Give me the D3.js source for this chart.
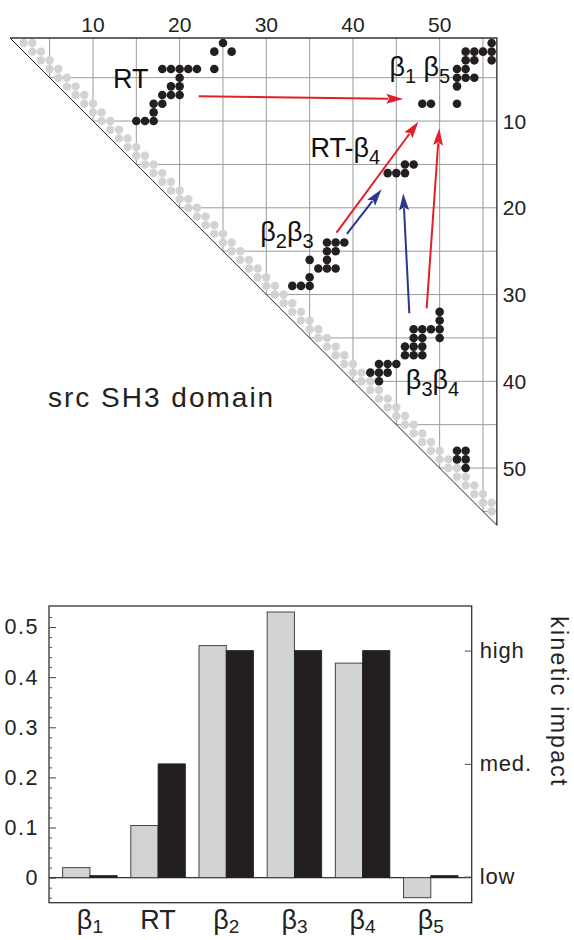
<!DOCTYPE html>
<html><head><meta charset="utf-8">
<script src="https://cdn.jsdelivr.net/npm/d3@7/dist/d3.min.js"></script>
<style>
body{margin:0;background:#fff;}
svg{display:block;font-family:"Liberation Sans",Arial,Helvetica,sans-serif;}
</style></head><body>
<svg id="c" width="574" height="940"></svg>
<script>
// ---------- contact map data ----------
const nResidues = 56;
const mapTickValues = [10, 20, 30, 40, 50];
const mapGridValues = [5, 10, 15, 20, 25, 30, 35, 40, 45, 50, 55];
const backboneOffsets = [1, 2];   // sequence neighbours (grey dots)
// native contacts [row residue, column residue]
const contacts = [
  [1,25],[1,56],
  [2,24],[2,26],[2,53],[2,54],[2,55],[2,56],
  [3,53],[3,54],[3,56],
  [4,18],[4,19],[4,20],[4,21],[4,22],[4,24],[4,52],[4,53],
  [5,20],[5,52],[5,53],[5,54],
  [6,19],[6,20],[6,52],
  [7,18],[7,19],[7,20],
  [8,17],[8,18],[8,48],[8,49],[8,52],
  [9,17],
  [10,15],[10,16],[10,17],
  [15,46],[15,47],
  [16,44],[16,45],[16,46],
  [24,37],[24,38],[24,39],
  [25,37],[25,38],
  [26,35],[26,37],
  [27,36],[27,37],[27,38],
  [28,35],
  [29,33],[29,34],[29,35],
  [32,50],[33,50],
  [34,47],[34,48],[34,49],[34,50],
  [35,47],[35,48],[35,50],
  [36,46],[36,47],[36,48],
  [37,46],[37,47],[37,48],
  [38,43],[38,44],[38,45],
  [39,42],[39,43],[39,44],
  [40,43],
  [48,52],[48,53],
  [49,52],[49,53],
  [50,53]
];
// arrows: [fromCol, fromRow, toCol, toRow, colour]
const arrows = [
  [22.2, 7.15, 45.8, 7.46, "red"],
  [38.1, 22.87, 47.55, 10.07, "red"],
  [48.5, 31.6, 49.95, 10.84, "red"],
  [39.3, 23.0, 43.3, 17.87, "blue"],
  [46.5, 32.15, 45.8, 18.33, "blue"]
];
// labels: [col, row(baseline), base text, subscript, base2, subscript2]
const mapLabels = [
  [12.3, 6.2, "RT", "", "", ""],
  [44.2, 4.75, "β", "1", " β", "5"],
  [35.1, 14.15, "RT-β", "4", "", ""],
  [29.3, 23.8, "β", "2", "β", "3"],
  [46.1, 40.85, "β", "3", "β", "4"]
];

// ---------- bar chart data ----------
const elements = ["β1", "RT", "β2", "β3", "β4", "β5"];
const elementBase = ["β", "RT", "β", "β", "β", "β"];
const elementSub = ["1", "", "2", "3", "4", "5"];
const greyValues = [0.020, 0.104, 0.463, 0.530, 0.428, -0.040];
const blackValues = [0.004, 0.227, 0.453, 0.453, 0.453, 0.004];
const yTickValues = [0, 0.1, 0.2, 0.3, 0.4, 0.5];
const yMinorValues = [-0.04, -0.02, 0.02, 0.04, 0.06, 0.08, 0.12, 0.14, 0.16, 0.18, 0.22, 0.24, 0.26, 0.28, 0.32, 0.34, 0.36, 0.38, 0.42, 0.44, 0.46, 0.48, 0.52];
const impactLabels = ["low", "med.", "high"];
const impactValues = [0.002, 0.227, 0.453];

const svg = d3.select("#c");
const RED = "#e3202a", BLUE = "#2c3590", BLACK = "#231f20", GREY = "#d1d3d5";

// ================= CONTACT MAP =================
const lo = 0.43, hi = 56.6;
const mx = d3.scaleLinear().domain([0, 57]).range([6.3, 6.3 + 8.667 * 57]);
const my = d3.scaleLinear().domain([0, 57]).range([34.3, 34.3 + 8.675 * 57]);
const map = svg.append("g");

// grid
map.selectAll("line.vg").data(mapGridValues).join("line")
  .attr("x1", d => mx(d)).attr("x2", d => mx(d))
  .attr("y1", my(lo)).attr("y2", d => my(d))
  .attr("stroke", "#9a9a9a").attr("stroke-width", 1);
map.selectAll("line.hg").data(mapGridValues).join("line")
  .attr("x1", d => mx(d)).attr("x2", mx(hi))
  .attr("y1", d => my(d)).attr("y2", d => my(d))
  .attr("stroke", "#9a9a9a").attr("stroke-width", 1);

// grey backbone dots
const backbone = [];
for (let i = 1; i <= nResidues; i++) backboneOffsets.forEach(o => { if (i + o <= nResidues) backbone.push([i, i + o]); });
map.selectAll("circle.bb").data(backbone).join("circle")
  .attr("cx", d => mx(d[1])).attr("cy", d => my(d[0])).attr("r", 4.2).attr("fill", GREY);

// triangle frame
map.append("path")
  .attr("d", `M${mx(lo)},${my(lo)}L${mx(hi)},${my(lo)}L${mx(hi)},${my(hi)}`)
  .attr("fill", "none").attr("stroke", "#333").attr("stroke-width", 1.4);
map.append("line")
  .attr("x1", mx(lo)).attr("y1", my(lo)).attr("x2", mx(hi)).attr("y2", my(hi))
  .attr("stroke", "#222").attr("stroke-width", 1);

// contacts
map.selectAll("circle.ct").data(contacts).join("circle")
  .attr("cx", d => mx(d[1])).attr("cy", d => my(d[0])).attr("r", 4.3).attr("fill", BLACK);

// tick labels
map.selectAll("text.tx").data(mapTickValues).join("text")
  .attr("x", d => mx(d)).attr("y", 32).attr("text-anchor", "middle")
  .attr("font-size", 21).attr("fill", "#222").text(d => d);
map.selectAll("text.ty").data(mapTickValues).join("text")
  .attr("x", mx(hi) + 6).attr("y", d => my(d) + 7.5)
  .attr("font-size", 21).attr("fill", "#222").text(d => d);

// arrows
arrows.forEach(a => {
  const x1 = mx(a[0]), y1 = my(a[1]), x2 = mx(a[2]), y2 = my(a[3]);
  const col = a[4] === "red" ? RED : BLUE;
  const dx = x2 - x1, dy = y2 - y1, L = Math.hypot(dx, dy), ux = dx / L, uy = dy / L;
  const hl = 17, hw = 5;
  const bx = x2 - ux * hl, by = y2 - uy * hl;
  map.append("line").attr("x1", x1).attr("y1", y1).attr("x2", bx + ux * 2).attr("y2", by + uy * 2)
    .attr("stroke", col).attr("stroke-width", 2);
  map.append("path")
    .attr("d", `M${x2},${y2}L${bx - uy * hw},${by + ux * hw}L${bx + ux * 3},${by + uy * 3}L${bx + uy * hw},${by - ux * hw}Z`)
    .attr("fill", col);
});

// labels
mapLabels.forEach(l => {
  const t = map.append("text").attr("x", mx(l[0])).attr("y", my(l[1]))
    .attr("font-size", 27).attr("fill", "#111");
  t.append("tspan").text(l[2]);
  if (l[3]) t.append("tspan").attr("font-size", 20).attr("dy", 7).text(l[3]);
  if (l[4]) t.append("tspan").attr("dy", -7).text(l[4]);
  if (l[5]) t.append("tspan").attr("font-size", 20).attr("dy", 7).text(l[5]);
});

svg.append("text").attr("x", 48).attr("y", 407).attr("font-size", 28)
  .attr("letter-spacing", 2).attr("fill", "#222").text("src SH3 domain");

// ================= BAR CHART =================
const L0 = 49, R0 = 471.7, T0 = 606, B0 = 902.7;
const y = d3.scaleLinear().domain([-0.05, 0.542]).range([B0, T0]);
const x = d3.scaleBand().domain(elements).range([L0, R0]).paddingInner(0.2).paddingOuter(0.2);
const xs = d3.scaleBand().domain(["grey", "black"]).range([0, x.bandwidth()]);
const bc = svg.append("g");

bc.append("line").attr("x1", L0).attr("x2", R0).attr("y1", y(0)).attr("y2", y(0))
  .attr("stroke", "#333").attr("stroke-width", 1.2);

const rows = elements.map((e, i) => ({ e, g: greyValues[i], b: blackValues[i] }));
bc.selectAll("rect.g").data(rows).join("rect")
  .attr("x", d => x(d.e) + xs("grey")).attr("width", xs.bandwidth())
  .attr("y", d => y(Math.max(0, d.g))).attr("height", d => Math.abs(y(d.g) - y(0)))
  .attr("fill", GREY).attr("stroke", "#444").attr("stroke-width", 1);
bc.selectAll("rect.b").data(rows).join("rect")
  .attr("x", d => x(d.e) + xs("black")).attr("width", xs.bandwidth())
  .attr("y", d => y(Math.max(0, d.b))).attr("height", d => Math.abs(y(d.b) - y(0)))
  .attr("fill", BLACK).attr("stroke", BLACK).attr("stroke-width", 0.8);

// frame
bc.append("rect").attr("x", L0).attr("y", T0).attr("width", R0 - L0).attr("height", B0 - T0)
  .attr("fill", "none").attr("stroke", "#333").attr("stroke-width", 1.3);

// left axis
const ax = bc.append("g").attr("transform", `translate(${L0},0)`)
  .call(d3.axisLeft(y).tickValues(yTickValues).tickSizeInner(-7).tickSizeOuter(0).tickPadding(10)
    .tickFormat(d => d === 0 ? "0" : d3.format(".1f")(d)));
ax.select(".domain").remove();
ax.selectAll("line").attr("stroke", "#444");
ax.selectAll("text").attr("font-size", 21.5).attr("letter-spacing", 1.5).attr("fill", "#222")
  .attr("font-family", "Liberation Sans, Arial, sans-serif");
const axm = bc.append("g").attr("transform", `translate(${L0},0)`)
  .call(d3.axisLeft(y).tickValues(yMinorValues).tickSizeInner(-3).tickSizeOuter(0).tickFormat(""));
axm.select(".domain").remove();
axm.selectAll("line").attr("stroke", "#555");

// right axis
const ar = bc.append("g").attr("transform", `translate(${R0},0)`)
  .call(d3.axisRight(y).tickValues(impactValues).tickSizeInner(-7).tickSizeOuter(0).tickPadding(8)
    .tickFormat((d, i) => impactLabels[i]));
ar.select(".domain").remove();
ar.selectAll("line").attr("stroke", "#555");
ar.selectAll("text").attr("font-size", 22).attr("letter-spacing", 0.8).attr("fill", "#222")
  .attr("font-family", "Liberation Sans, Arial, sans-serif");

// x labels
elements.forEach((e, i) => {
  const t = bc.append("text").attr("x", x(e) + x.bandwidth() / 2).attr("y", 929)
    .attr("text-anchor", "middle").attr("font-size", 27).attr("fill", "#222");
  t.append("tspan").text(elementBase[i]);
  if (elementSub[i]) t.append("tspan").attr("font-size", 19).attr("dy", 4).text(elementSub[i]);
});

// right title
svg.append("text").attr("transform", "translate(551,702) rotate(90)")
  .attr("text-anchor", "middle").attr("font-size", 23).attr("letter-spacing", 2.3)
  .attr("fill", "#222").text("kinetic impact");
</script>
</body></html>
